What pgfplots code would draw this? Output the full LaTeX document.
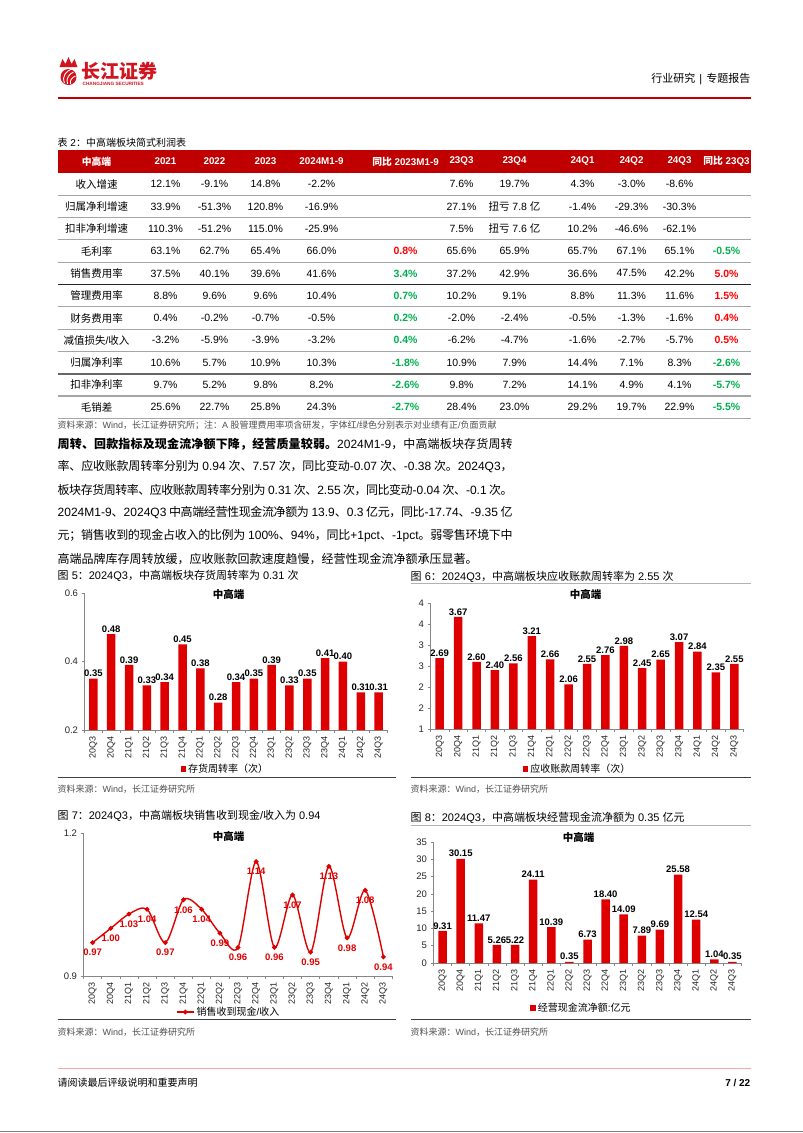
\documentclass[border=0pt]{standalone}
\usepackage{fontspec}
\setmainfont{Liberation Sans}
\newfontfamily\latinfont{Liberation Sans}
\newfontfamily\cjkfont{Noto Sans CJK SC}
\usepackage{pgfplots}
\pgfplotsset{compat=1.18}
\newcount\cc
\newXeTeXintercharclass\cjkcls
\newcommand\setcls[2]{\cc=#1\relax\loop\XeTeXcharclass\cc=\cjkcls\relax\ifnum\cc<#2\advance\cc by 1\repeat}
\setcls{"4E00}{"9FFF}
\setcls{"3000}{"303F}
\setcls{"FF00}{"FFEF}
\XeTeXinterchartoks 0 \cjkcls = {\cjkfont}
\XeTeXinterchartoks 4095 \cjkcls = {\cjkfont}
\XeTeXinterchartoks \cjkcls 0 = {\latinfont}
\XeTeXinterchartoks \cjkcls 4095 = {\latinfont}
\XeTeXinterchartoks \cjkcls \cjkcls = {\hskip 0pt plus 0.6pt minus 0.6pt\relax}
\XeTeXinterchartokenstate=1

\definecolor{hdred}{RGB}{192,0,0}
\definecolor{logored}{RGB}{210,20,30}
\definecolor{barred}{RGB}{222,0,0}
\definecolor{cgreen}{RGB}{0,176,80}
\definecolor{cred}{RGB}{255,0,0}
\definecolor{axgray}{RGB}{134,134,134}
\definecolor{srcgray}{RGB}{80,80,80}
\newcommand\G[1]{\textcolor{cgreen}{\bfseries #1\%}}
\newcommand\R[1]{\textcolor{cred}{\bfseries #1\%}}
\def\colx{{96,165,214,265,321,405,461,514,582,631,679,726}}
\newcommand\trow[2]{\foreach [count=\i from 0] \c in {#2} {\node[font=\fontsize{10.5}{11}\selectfont] at ({\colx[\i]},#1) {\c};}}
\newcommand\pline[1]{\hbox to 455pt{#1}}

\pgfplotsset{
  /pgf/number format/assume math mode=true,
  cbase/.style={scale only axis, xmin=-0.5, xmax=16.5,
    axis x line*=bottom, axis y line*=left,
    axis line style={draw=axgray, line width=0.7pt},
    tick label style={font=\fontsize{9.5}{10}\selectfont, text=black!85},
    xtick={0,...,16},
    xticklabels={20Q3,20Q4,21Q1,21Q2,21Q3,21Q4,22Q1,22Q2,22Q3,22Q4,23Q1,23Q2,23Q3,23Q4,24Q1,24Q2,24Q3},
    x tick label style={rotate=90, anchor=east, font=\fontsize{9}{9}\selectfont},
    major x tick style={draw=none},
    minor xtick={-0.5,0.5,...,16.5},
    minor x tick style={draw=axgray, line width=0.6pt},
    y tick style={draw=axgray, line width=0.6pt},
    tick align=outside, major tick length=3pt, minor tick length=3pt,
    legend style={draw=none, fill=none, font=\fontsize{10}{10}\selectfont, legend cell align=left}},
  cbar/.style={cbase, ybar, bar width=8.5pt,
    nodes near coords={\pgfmathprintnumber[fixed,fixed zerofill,precision=2]{\pgfplotspointmeta}},
    every node near coord/.append style={font=\bfseries\fontsize{9.5}{10}\selectfont, text=black, inner sep=1.5pt},
    legend image code/.code={\fill[barred] (0pt,-2.8pt) rectangle (5.6pt,2.8pt);}},
}

\begin{document}
\begin{tikzpicture}
\begin{scope}[x=1pt,y=-1pt]
\fill[white] (0,0) rectangle (802,1133);
% ---- header / logo
\fill[logored] (68,77) circle (8);
\draw[white,line width=0.9pt] (64,83) .. controls (61,76) and (66,71) .. (71,69);
\draw[white,line width=0.9pt] (67,84) .. controls (65,78) and (69,74) .. (73,72);
\draw[white,line width=0.9pt] (70,84) .. controls (69,80) and (72,77) .. (75,76);
\fill[logored] (59,67) -- (62,59) -- (65,64) -- (68,57) -- (71,64) -- (74,59) -- (77,67) -- cycle;
\node[anchor=west,text=logored,font=\bfseries\fontsize{19}{19}\selectfont,inner sep=0pt] at (81,71) {长江证券};
\node[anchor=west,text=logored,font=\bfseries\fontsize{4.7}{5}\selectfont,inner sep=0pt] at (82,84) {CHANGJIANG SECURITIES};
\node[anchor=east,font=\fontsize{11}{11}\selectfont,inner sep=0pt] at (750,79) {行业研究\hspace{4pt}|\hspace{4pt}专题报告};
\draw[hdred,line width=2.2pt] (57,98) -- (750,98);
% ---- table
\node[anchor=west,font=\fontsize{10}{10}\selectfont,inner sep=0pt] at (57,143) {表 2：中高端板块简式利润表};
\fill[hdred] (57,150) rectangle (750,173);
\foreach [count=\i from 0] \c in {中高端,2021,2022,2023,2024M1-9,同比 2023M1-9,23Q3,23Q4,24Q1,24Q2,24Q3,同比 23Q3}
  {\node[text=white,font=\bfseries\fontsize{9.8}{10}\selectfont] at ({\colx[\i]},161.5) {\c};}
\foreach \k in {1,2,3,4,6,7,8,10,11} {\draw[gray!70,line width=1.1pt] (57,{173+22.3*\k}) -- (750,{173+22.3*\k});}
\draw[black!85,line width=0.8pt] (57,{173+22.3*5}) -- (750,{173+22.3*5});
\draw[black!60,line width=2.4pt] (57,{173+22.3*9}) -- (750,{173+22.3*9});
\trow{184.2}{收入增速,12.1\%,-9.1\%,14.8\%,-2.2\%,{},7.6\%,19.7\%,4.3\%,-3.0\%,-8.6\%,{}}
\trow{206.5}{归属净利增速,33.9\%,-51.3\%,120.8\%,-16.9\%,{},27.1\%,扭亏 7.8 亿,-1.4\%,-29.3\%,-30.3\%,{}}
\trow{228.8}{扣非净利增速,110.3\%,-51.2\%,115.0\%,-25.9\%,{},7.5\%,扭亏 7.6 亿,10.2\%,-46.6\%,-62.1\%,{}}
\trow{251.1}{毛利率,63.1\%,62.7\%,65.4\%,66.0\%,{\R{0.8}},65.6\%,65.9\%,65.7\%,67.1\%,65.1\%,{\G{-0.5}}}
\trow{273.4}{销售费用率,37.5\%,40.1\%,39.6\%,41.6\%,{\G{3.4}},37.2\%,42.9\%,36.6\%,47.5\%,42.2\%,{\R{5.0}}}
\trow{295.7}{管理费用率,8.8\%,9.6\%,9.6\%,10.4\%,{\G{0.7}},10.2\%,9.1\%,8.8\%,11.3\%,11.6\%,{\R{1.5}}}
\trow{318.0}{财务费用率,0.4\%,-0.2\%,-0.7\%,-0.5\%,{\G{0.2}},-2.0\%,-2.4\%,-0.5\%,-1.3\%,-1.6\%,{\R{0.4}}}
\trow{340.3}{减值损失/收入,-3.2\%,-5.9\%,-3.9\%,-3.2\%,{\G{0.4}},-6.2\%,-4.7\%,-1.6\%,-2.7\%,-5.7\%,{\R{0.5}}}
\trow{362.6}{归属净利率,10.6\%,5.7\%,10.9\%,10.3\%,{\G{-1.8}},10.9\%,7.9\%,14.4\%,7.1\%,8.3\%,{\G{-2.6}}}
\trow{384.9}{扣非净利率,9.7\%,5.2\%,9.8\%,8.2\%,{\G{-2.6}},9.8\%,7.2\%,14.1\%,4.9\%,4.1\%,{\G{-5.7}}}
\trow{407.2}{毛销差,25.6\%,22.7\%,25.8\%,24.3\%,{\G{-2.7}},28.4\%,23.0\%,29.2\%,19.7\%,22.9\%,{\G{-5.5}}}
\node[anchor=west,text=srcgray,font=\fontsize{9}{9}\selectfont,inner sep=0pt] at (57,425) {资料来源：Wind，长江证券研究所；注：A 股管理费用率项含研发，字体红/绿色分别表示对业绩有正/负面贡献};
% ---- paragraph
\begin{scope}[every node/.style={anchor=west,inner sep=0pt,font=\fontsize{12}{13}\selectfont}]
\node at (57,444) {\pline{\textbf{周转、回款指标及现金流净额下降，经营质量较弱。}2024M1-9，中高端板块存货周转}};
\node at (57,467) {\pline{率、应收账款周转率分别为 0.94 次、7.57 次，同比变动-0.07 次、-0.38 次。2024Q3，}};
\node at (57,490) {\pline{板块存货周转率、应收账款周转率分别为 0.31 次、2.55 次，同比变动-0.04 次、-0.1 次。}};
\node at (57,513) {\pline{2024M1-9、2024Q3 中高端经营性现金流净额为 13.9、0.3 亿元，同比-17.74、-9.35 亿}};
\node at (57,536) {\pline{元；销售收到的现金占收入的比例为 100\%、94\%，同比+1pct、-1pct。弱零售环境下中}};
\node at (57,559) {高端品牌库存周转放缓，应收账款回款速度趋慢，经营性现金流净额承压显著。};
\end{scope}
% ---- figure captions, lines, sources
\begin{scope}[every node/.style={anchor=west,inner sep=0pt,font=\fontsize{11}{11}\selectfont}]
\node at (57,576) {图 5：2024Q3，中高端板块存货周转率为 0.31 次};
\node at (410,577) {图 6：2024Q3，中高端板块应收账款周转率为 2.55 次};
\node at (57,816) {图 7：2024Q3，中高端板块销售收到现金/收入为 0.94};
\node at (410,818) {图 8：2024Q3，中高端板块经营现金流净额为 0.35 亿元};
\end{scope}
\draw[gray!60,line width=0.8pt] (410,583) -- (750,583);
\draw[gray!60,line width=0.8pt] (410,825) -- (750,825);
\draw[black!75,line width=0.9pt] (57,777) -- (395,777);
\draw[black!75,line width=0.9pt] (410,777) -- (750,777);
\draw[black!75,line width=0.9pt] (57,1019) -- (395,1019);
\draw[black!75,line width=0.9pt] (410,1019) -- (750,1019);
\begin{scope}[every node/.style={anchor=west,inner sep=0pt,text=srcgray,font=\fontsize{9}{9}\selectfont}]
\node at (57,789) {资料来源：Wind，长江证券研究所};
\node at (410,789) {资料来源：Wind，长江证券研究所};
\node at (57,1032) {资料来源：Wind，长江证券研究所};
\node at (410,1032) {资料来源：Wind，长江证券研究所};
\end{scope}
% chart titles
\begin{scope}[every node/.style={inner sep=0pt,font=\bfseries\fontsize{10.5}{11}\selectfont}]
\node at (228,594) {中高端};
\node at (585,594) {中高端};
\node at (228,836) {中高端};
\node at (578,837) {中高端};
\end{scope}
% ---- footer
\draw[red!35,line width=1pt] (57,1068) -- (750,1068);
\node[anchor=west,inner sep=0pt,font=\fontsize{10}{10}\selectfont] at (57,1083) {请阅读最后评级说明和重要声明};
\node[anchor=east,inner sep=0pt,font=\bfseries\fontsize{10}{10}\selectfont] at (750,1083) {7 / 22};
\draw[gray,line width=1pt] (0,1131) -- (802,1131);
\end{scope}

% ===== Chart 5
\begin{axis}[cbar, at={(84pt,-730pt)}, anchor=south west, width=303pt, height=137pt,
  ymin=0.2, ymax=0.6, ytick={0.2,0.4,0.6},
  legend style={at={(0.465,-0.285)}, anchor=center}]
\addplot[fill=barred, draw=none] coordinates {(0,0.35) (1,0.48) (2,0.39) (3,0.33) (4,0.34) (5,0.45) (6,0.38) (7,0.28) (8,0.34) (9,0.35) (10,0.39) (11,0.33) (12,0.35) (13,0.41) (14,0.40) (15,0.31) (16,0.31)};
\addlegendentry{存货周转率（次）}
\end{axis}

% ===== Chart 6
\begin{axis}[cbar, at={(430pt,-729pt)}, anchor=south west, width=313pt, height=126pt,
  ymin=1, ymax=4, ytick={1,1.5,...,4},
  yticklabel style={/pgf/number format/.cd, fixed, precision=0},
  legend style={at={(0.47,-0.317)}, anchor=center}]
\addplot[fill=barred, draw=none] coordinates {(0,2.69) (1,3.67) (2,2.60) (3,2.40) (4,2.56) (5,3.21) (6,2.66) (7,2.06) (8,2.55) (9,2.76) (10,2.98) (11,2.45) (12,2.65) (13,3.07) (14,2.84) (15,2.35) (16,2.55)};
\addlegendentry{应收账款周转率（次）}
\end{axis}

% ===== Chart 7
\begin{axis}[cbase, at={(83pt,-976pt)}, anchor=south west, width=309pt, height=143pt,
  ymin=0.9, ymax=1.2, ytick={0.9,1.2},
  nodes near coords={\pgfmathprintnumber[fixed,fixed zerofill,precision=2]{\pgfplotspointmeta}},
  every node near coord/.append style={font=\bfseries\fontsize{9.5}{10}\selectfont, text=barred, anchor=north, yshift=-5pt, inner sep=1pt},
  legend style={at={(0.47,-0.252)}, anchor=center}]
\addplot[barred, line width=1.4pt, smooth, mark=*, mark size=1.6pt, mark options={fill=barred, draw=barred}] coordinates {(0,0.97) (1,1.00) (2,1.03) (3,1.04) (4,0.97) (5,1.06) (6,1.04) (7,0.99) (8,0.96) (9,1.14) (10,0.96) (11,1.07) (12,0.95) (13,1.13) (14,0.98) (15,1.08) (16,0.94)};
\addlegendentry{销售收到现金/收入}
\end{axis}

% ===== Chart 8
\begin{axis}[cbar, at={(433pt,-963pt)}, anchor=south west, width=308pt, height=121pt,
  ymin=0, ymax=35, ytick={0,5,...,35},
  legend style={at={(0.48,-0.372)}, anchor=center}]
\addplot[fill=barred, draw=none] coordinates {(0,9.31) (1,30.15) (2,11.47) (3,5.26) (4,5.22) (5,24.11) (6,10.39) (7,0.35) (8,6.73) (9,18.40) (10,14.09) (11,7.89) (12,9.69) (13,25.58) (14,12.54) (15,1.04) (16,0.35)};
\addlegendentry{经营现金流净额:亿元}
\end{axis}
\end{tikzpicture}
\end{document}
